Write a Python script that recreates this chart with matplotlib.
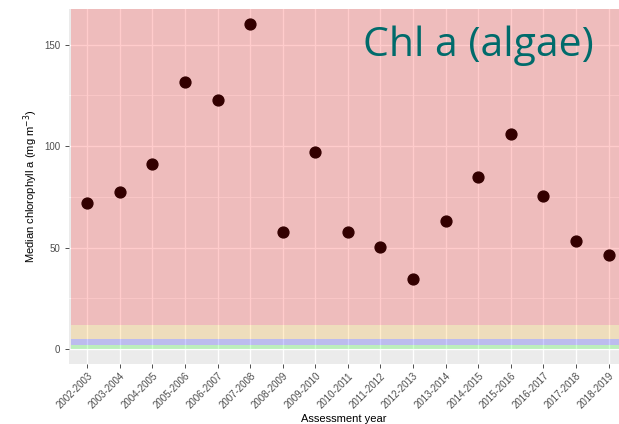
import matplotlib.pyplot as plt

years = ["2002-2003", "2003-2004", "2004-2005", "2005-2006", "2006-2007",
         "2007-2008", "2008-2009", "2009-2010", "2010-2011", "2011-2012",
         "2012-2013", "2013-2014", "2014-2015", "2015-2016", "2016-2017",
         "2017-2018", "2018-2019"]
chl = [72.2, 77.3, 91.0, 131.5, 122.7, 160.0, 57.7, 97.3, 57.6, 50.3,
       34.4, 63.3, 85.0, 106.1, 75.6, 53.3, 46.4]

# class boundaries (mg m-3)
band_lo = [0, 2, 5, 12]
band_hi = [2, 5, 12, 1000]
band_col = ["#00ff00", "#0000ff", "#ffa500", "#ff0000"]

plt.rcParams['font.family'] = ['Liberation Sans', 'DejaVu Sans']

fig = plt.figure(figsize=(6.19, 4.24), dpi=100)
ax = fig.add_axes([69 / 619, 1 - 364 / 424, 1 - 69 / 619, 355 / 424])
ax.set_facecolor("#EBEBEB")

x = list(range(len(years)))
ax.set_xlim(-0.56, 16.32)
ax.set_ylim(-7.3, 167.5)

# grid
for v in [25, 75, 125]:
    ax.axhline(v, color="white", lw=0.5, zorder=0.5)
for v in [0, 50, 100, 150]:
    ax.axhline(v, color="white", lw=1.0, zorder=0.5)
for xi in x:
    ax.axvline(xi, color="white", lw=1.0, zorder=0.5)

for lo, hi, c in zip(band_lo, band_hi, band_col):
    ax.fill_between([-0.5, len(years) - 0.5], lo, hi, color=c, alpha=0.2,
                    lw=0, zorder=1)

ax.plot(x, chl, 'o', color="#330000", markersize=7.8, zorder=3)

ax.set_yticks([0, 50, 100, 150])
ax.set_xticks(x)
ax.set_xticklabels(years, rotation=45, ha="right", rotation_mode="anchor")
ax.tick_params(axis="both", colors="#333333", labelcolor="#4D4D4D",
               labelsize=7, length=3, width=0.6)
ax.tick_params(axis="x", pad=2)
for s in ax.spines.values():
    s.set_visible(False)

ax.set_ylabel(r"Median chlorophyll a (mg m$^{-3}$)", fontsize=8, labelpad=3)
ax.set_xlabel("Assessment year", fontsize=8, labelpad=2)

fig.text(0.773, 0.893, "Chl a (algae)", color="#006B6B", fontsize=29.5,
         family=["Open Sans", "DejaVu Sans"], ha="center", va="center")

fig.savefig("out.png", dpi=100)
